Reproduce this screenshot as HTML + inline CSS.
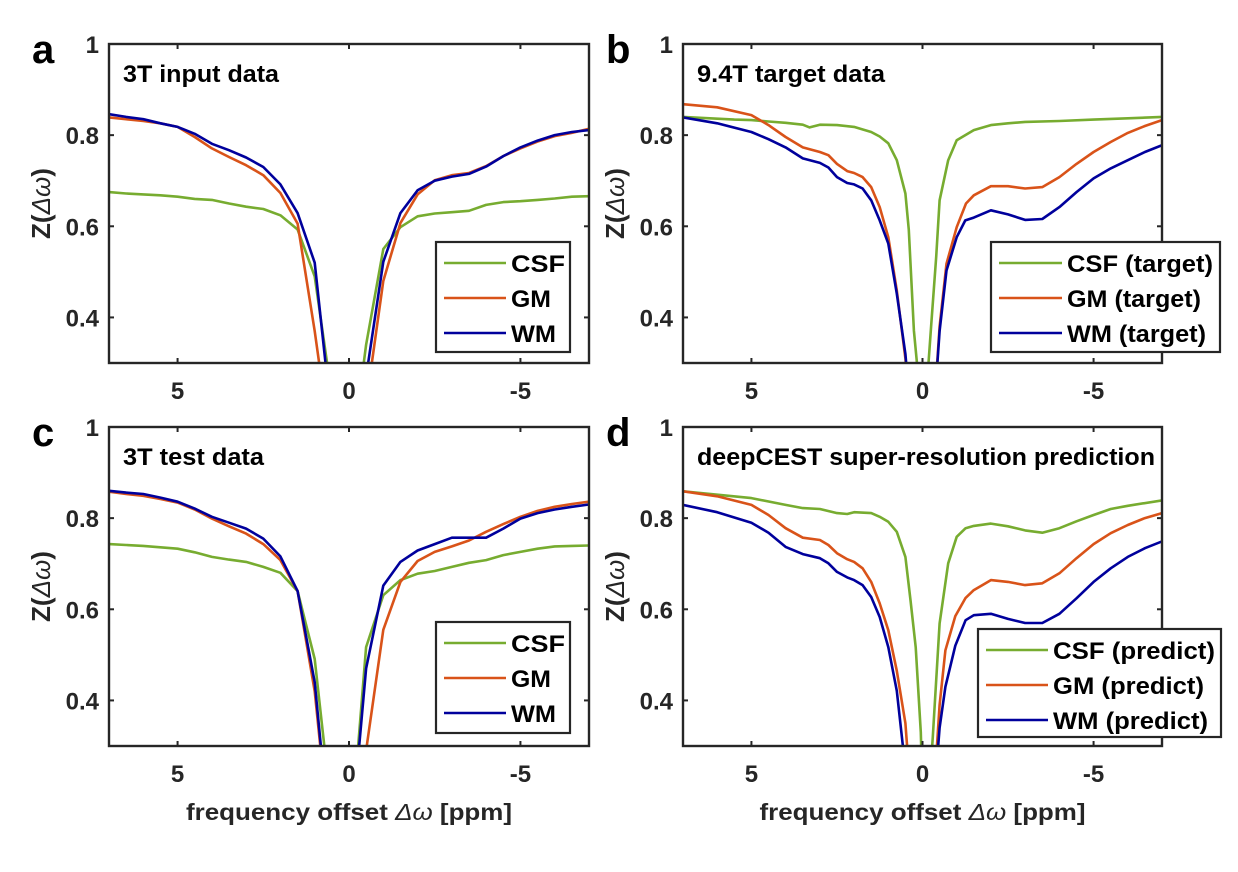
<!DOCTYPE html>
<html><head><meta charset="utf-8"><style>
html,body{margin:0;padding:0;background:#fff;}
svg{display:block;font-family:"Liberation Sans",Arial,sans-serif;}
</style></head><body>
<svg id="fig" width="1238" height="872" viewBox="0 0 1238 872"></svg>
<script>
// ---------- data ----------
const ppmGrid = [7,6.5,6,5.5,5,4.5,4,3.5,3,2.5,2,1.5,1,0.5,0,-0.5,-1,-1.5,-2,-2.5,-3,-3.5,-4,-4.5,-5,-5.5,-6,-6.5,-7];
const aCsf = [0.675,0.672,0.670,0.668,0.665,0.660,0.658,0.650,0.643,0.638,0.624,0.593,0.490,0.226,0.05,0.34,0.55,0.598,0.622,0.628,0.631,0.634,0.647,0.653,0.655,0.658,0.661,0.665,0.666];
const aGm  = [0.839,0.835,0.831,0.826,0.818,0.796,0.771,0.752,0.734,0.712,0.673,0.606,0.37,0.1,0.05,0.21,0.48,0.607,0.670,0.701,0.712,0.717,0.732,0.754,0.771,0.786,0.798,0.805,0.814];
const aWm  = [0.846,0.840,0.835,0.826,0.818,0.803,0.781,0.767,0.751,0.730,0.692,0.629,0.52,0.17,0.05,0.27,0.522,0.629,0.679,0.700,0.709,0.715,0.731,0.754,0.773,0.788,0.800,0.807,0.811];
const cCsf = [0.743,0.741,0.739,0.736,0.733,0.725,0.715,0.709,0.704,0.693,0.680,0.640,0.491,0.15,0.05,0.517,0.631,0.664,0.678,0.684,0.693,0.702,0.708,0.719,0.726,0.733,0.738,0.739,0.740];
const cGm  = [0.858,0.853,0.849,0.842,0.834,0.819,0.799,0.782,0.766,0.743,0.708,0.640,0.42,0.05,0.05,0.29,0.555,0.660,0.706,0.726,0.738,0.751,0.770,0.787,0.803,0.816,0.825,0.831,0.836];
const cWm  = [0.860,0.856,0.853,0.845,0.836,0.821,0.803,0.790,0.777,0.755,0.716,0.640,0.44,0.05,0.05,0.470,0.652,0.704,0.729,0.743,0.757,0.757,0.757,0.777,0.799,0.811,0.819,0.825,0.830];

const bCsfPpm = [7,6.5,6,5.5,5,4.5,4,3.5,3.3,3,2.5,2,1.5,1.25,1,0.75,0.5,0.4,0.25,0.1,0,-0.1,-0.25,-0.4,-0.5,-0.75,-1,-1.5,-2,-2.5,-3,-4,-5,-6,-7];
const bCsf    = [0.840,0.838,0.836,0.834,0.833,0.830,0.827,0.823,0.817,0.823,0.822,0.818,0.807,0.797,0.782,0.745,0.672,0.592,0.371,0.25,0.2,0.22,0.38,0.533,0.657,0.745,0.789,0.811,0.822,0.826,0.829,0.831,0.834,0.837,0.840];
const bGmPpm  = [7,6,5,4.5,4,3.5,3,2.75,2.5,2.2,2,1.75,1.5,1.25,1,0.75,0.5,0.25,0,-0.25,-0.5,-0.7,-1,-1.27,-1.5,-2,-2.5,-3,-3.5,-4,-4.5,-5,-5.5,-6,-6.5,-7];
const bGm     = [0.868,0.861,0.844,0.822,0.796,0.773,0.763,0.756,0.737,0.721,0.717,0.708,0.686,0.642,0.576,0.459,0.31,0.1,0.05,0.1,0.38,0.518,0.598,0.650,0.668,0.688,0.688,0.683,0.686,0.708,0.737,0.763,0.785,0.805,0.820,0.833];
const bWmPpm  = [7,6,5,4.5,4,3.5,3,2.75,2.5,2.2,2,1.75,1.5,1.25,1,0.75,0.5,0.25,0,-0.25,-0.5,-0.7,-1,-1.25,-1.5,-2,-2.5,-3,-3.5,-4,-4.5,-5,-5.5,-6,-6.5,-7];
const bWm     = [0.839,0.826,0.807,0.791,0.773,0.749,0.739,0.729,0.708,0.695,0.692,0.683,0.657,0.613,0.562,0.452,0.32,0.1,0.05,0.1,0.37,0.503,0.576,0.613,0.619,0.635,0.626,0.614,0.616,0.642,0.675,0.705,0.727,0.745,0.763,0.778];

const dCsfPpm = [7,5,4,3.5,3,2.5,2.2,2,1.5,1.25,1,0.75,0.5,0.35,0.2,0.05,0,-0.15,-0.3,-0.5,-0.75,-1,-1.26,-1.5,-2,-2.5,-3,-3.5,-4,-4.5,-5,-5.5,-6,-7];
const dCsf    = [0.859,0.844,0.829,0.822,0.820,0.811,0.809,0.813,0.811,0.803,0.792,0.770,0.715,0.62,0.517,0.33,0.2,0.15,0.32,0.569,0.701,0.759,0.778,0.783,0.788,0.782,0.773,0.768,0.778,0.793,0.807,0.820,0.827,0.839];
const dGmPpm  = [7,6,5,4.5,4,3.5,3,2.75,2.5,2.2,2,1.75,1.5,1.25,1,0.75,0.5,0.25,0,-0.25,-0.5,-0.67,-0.96,-1.26,-1.5,-1.75,-2,-2.5,-3,-3.5,-4,-4.5,-5,-5.5,-6,-6.5,-7];
const dGm     = [0.859,0.848,0.829,0.807,0.778,0.757,0.752,0.741,0.723,0.710,0.704,0.690,0.660,0.613,0.554,0.465,0.35,0.1,0.05,0.1,0.39,0.51,0.585,0.625,0.642,0.653,0.664,0.660,0.653,0.657,0.679,0.712,0.743,0.767,0.785,0.800,0.811];
const dWmPpm  = [7,6,5,4.5,4,3.5,3,2.75,2.5,2.2,2,1.75,1.5,1.25,1,0.75,0.5,0.25,0,-0.25,-0.5,-0.67,-0.96,-1.26,-1.5,-2,-2.5,-3,-3.5,-4,-4.5,-5,-5.5,-6,-6.5,-7];
const dWm     = [0.829,0.813,0.790,0.768,0.737,0.721,0.712,0.701,0.682,0.670,0.664,0.653,0.627,0.583,0.517,0.421,0.25,0.1,0.05,0.1,0.34,0.43,0.52,0.576,0.587,0.590,0.579,0.570,0.570,0.590,0.624,0.660,0.690,0.715,0.734,0.749];

const yTicks = [0.4,0.6,0.8,1];
const yTickLabels = ["0.4","0.6","0.8","1"];
const xTicks = [5,0,-5];
const xTickLabels = ["5","0","-5"];
const COLORS = {csf:"#77AC30", gm:"#D95319", wm:"#00009C"};

// ---------- drawing ----------
const NS = "http://www.w3.org/2000/svg";
const svg = document.getElementById("fig");
function mk(tag, attrs, parent){
  const e = document.createElementNS(NS, tag);
  for (const k in attrs) e.setAttribute(k, attrs[k]);
  (parent||svg).appendChild(e);
  return e;
}
const defs = mk("defs", {});

function panel(id, box, letter, title, titleLen, series, legend, showXTitle){
  const g = mk("g", {});
  
  
  const {x0,x1,y0,y1} = box;
  const xs = p => x0 + (7 - p) / 14 * (x1 - x0);
  const ys = v => y1 - (v - 0.3) / 0.7 * (y1 - y0);
  const cp = mk("clipPath", {id:"clip-"+id}, defs);
  mk("rect", {x:x0, y:y0, width:x1-x0, height:y1-y0}, cp);

  series.forEach(s => {
    const d = s.ppm.map((p,i) => (i?"L":"M") + xs(p).toFixed(1) + "," + ys(s.z[i]).toFixed(1)).join(" ");
    const path = mk("path", {d:d, fill:"none", stroke:s.color, "stroke-width":2.6, "stroke-linejoin":"round", "clip-path":"url(#clip-"+id+")"}, g);
    
    
  });

  const frame = mk("rect", {x:x0, y:y0, width:x1-x0, height:y1-y0, fill:"none", stroke:"#262626", "stroke-width":2.4}, g);
  
  

  yTicks.forEach((v,i) => {
    const y = ys(v);
    mk("line", {x1:x0, x2:x0+5, y1:y, y2:y, stroke:"#262626", "stroke-width":2}, g);
    mk("line", {x1:x1, x2:x1-5, y1:y, y2:y, stroke:"#262626", "stroke-width":2}, g);
    const t = mk("text", {x:x0-10, y:y+9, "text-anchor":"end", "font-size":24, "font-weight":"bold", fill:"#262626"}, g);
    t.textContent = yTickLabels[i];
    
    
  });
  xTicks.forEach((p,i) => {
    const x = xs(p);
    mk("line", {x1:x, x2:x, y1:y1, y2:y1-5, stroke:"#262626", "stroke-width":2}, g);
    mk("line", {x1:x, x2:x, y1:y0, y2:y0+5, stroke:"#262626", "stroke-width":2}, g);
    const t = mk("text", {x:x, y:y1+36, "text-anchor":"middle", "font-size":24, "font-weight":"bold", fill:"#262626"}, g);
    t.textContent = xTickLabels[i];
    
    
  });

  const cy = (y0+y1)/2, cx = x0 - 66;
  const yt = mk("text", {x:cx, y:cy, transform:"rotate(-90 "+cx+" "+cy+")", "text-anchor":"middle", "dominant-baseline":"middle", "font-size":26, "font-weight":"bold", fill:"#262626"}, g);
  yt.innerHTML = 'Z(<tspan font-weight="normal" font-style="italic">Δω</tspan>)';
  
  

  if (showXTitle){
    const xt = mk("text", {x:(x0+x1)/2, y:820, "text-anchor":"middle", "font-size":23, "font-weight":"bold", fill:"#262626", textLength:326, lengthAdjust:"spacingAndGlyphs"}, g);
    xt.innerHTML = 'frequency offset <tspan font-weight="normal" font-style="italic">Δω</tspan> [ppm]';
    
    
  }

  const lt = mk("text", {x:x0-77, y:y0+19, "font-size":40, "font-weight":"bold", fill:"#000"}, g);
  lt.textContent = letter;
  
  

  const tt = mk("text", {x:x0+14, y:y0+38, "font-size":24, "font-weight":"bold", fill:"#000", textLength:titleLen, lengthAdjust:"spacingAndGlyphs"}, g);
  tt.textContent = title;
  
  

  const lg = mk("g", {}, g);
  
  
  mk("rect", {x:legend.x, y:legend.y, width:legend.w, height:legend.h, fill:"#fff", stroke:"#262626", "stroke-width":2.2}, lg);
  series.forEach((s,i) => {
    const ey = legend.y + 21 + i*35;
    const e = mk("g", {}, lg);
    
    
    mk("line", {x1:legend.x+8, x2:legend.x+legend.line, y1:ey, y2:ey, stroke:s.color, "stroke-width":2.6}, e);
    const t = mk("text", {x:legend.x+legend.line+5, y:ey+9, "font-size":24, "font-weight":"bold", fill:"#000", textLength:legend.tl[i], lengthAdjust:"spacingAndGlyphs"}, e);
    t.textContent = s.label;
  });
}

const boxA = {x0:109, x1:589, y0:44, y1:363};
const boxB = {x0:683, x1:1162, y0:44, y1:363};
const boxC = {x0:109, x1:589, y0:427, y1:746};
const boxD = {x0:683, x1:1162, y0:427, y1:746};

panel("a", boxA, "a", "3T input data", 156, [
  {key:"csf", ppm:ppmGrid, z:aCsf, color:COLORS.csf, label:"CSF"},
  {key:"gm", ppm:ppmGrid, z:aGm, color:COLORS.gm, label:"GM"},
  {key:"wm", ppm:ppmGrid, z:aWm, color:COLORS.wm, label:"WM"}
], {x:436, y:242, w:134, h:110, line:70, tl:[54,40,45]}, false);

panel("b", boxB, "b", "9.4T target data", 188, [
  {key:"csf", ppm:bCsfPpm, z:bCsf, color:COLORS.csf, label:"CSF (target)"},
  {key:"gm", ppm:bGmPpm, z:bGm, color:COLORS.gm, label:"GM (target)"},
  {key:"wm", ppm:bWmPpm, z:bWm, color:COLORS.wm, label:"WM (target)"}
], {x:991, y:242, w:229, h:110, line:71, tl:[146,134,139]}, false);

panel("c", boxC, "c", "3T test data", 141, [
  {key:"csf", ppm:ppmGrid, z:cCsf, color:COLORS.csf, label:"CSF"},
  {key:"gm", ppm:ppmGrid, z:cGm, color:COLORS.gm, label:"GM"},
  {key:"wm", ppm:ppmGrid, z:cWm, color:COLORS.wm, label:"WM"}
], {x:436, y:622, w:134, h:111, line:70, tl:[54,40,45]}, true);

panel("d", boxD, "d", "deepCEST super-resolution prediction", 458, [
  {key:"csf", ppm:dCsfPpm, z:dCsf, color:COLORS.csf, label:"CSF (predict)"},
  {key:"gm", ppm:dGmPpm, z:dGm, color:COLORS.gm, label:"GM (predict)"},
  {key:"wm", ppm:dWmPpm, z:dWm, color:COLORS.wm, label:"WM (predict)"}
], {x:978, y:629, w:243, h:108, line:70, tl:[162,151,155]}, true);
</script>
</body></html>
